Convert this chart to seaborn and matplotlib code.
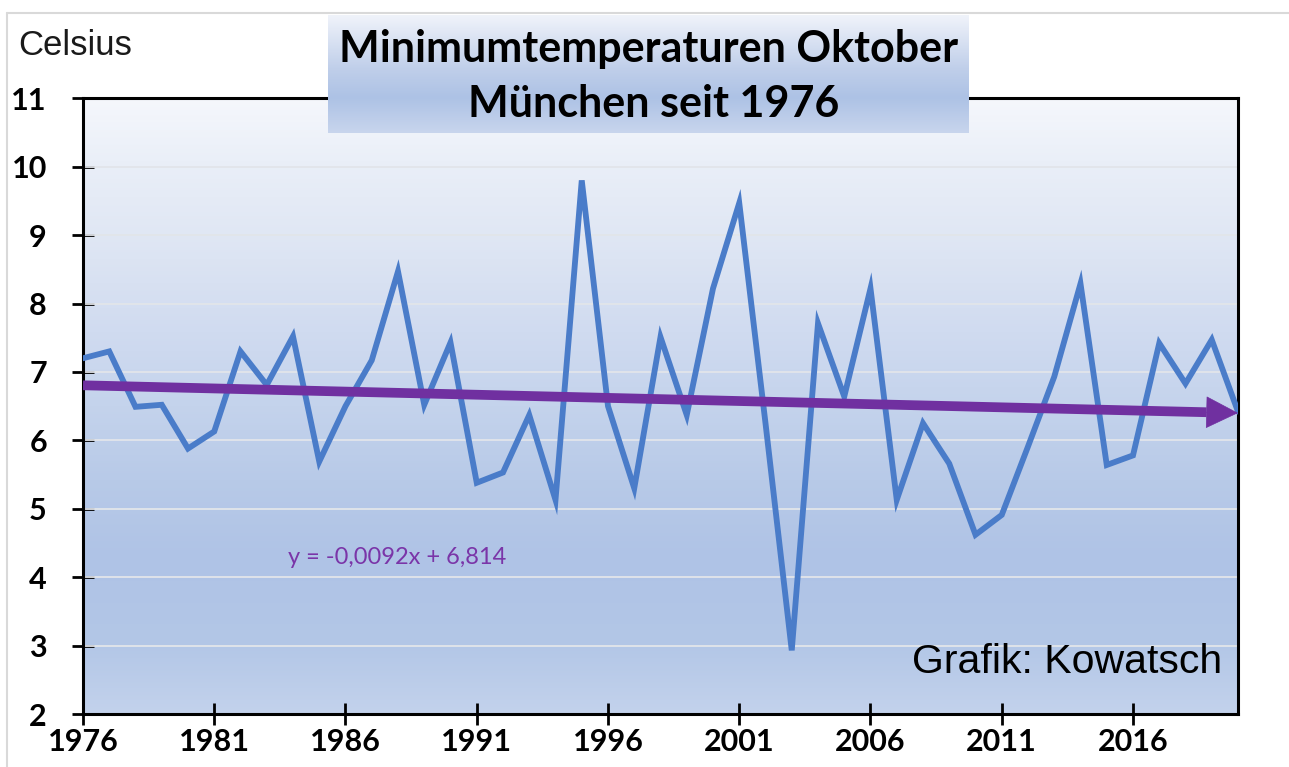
import numpy as np
import pandas as pd
import matplotlib
matplotlib.use("Agg")
import matplotlib.pyplot as plt
import seaborn as sns
from matplotlib.colors import LinearSegmentedColormap
from matplotlib.lines import Line2D

# ---------------- data ----------------
years = list(range(1976, 2021))
tmin = [7.20, 7.30, 6.49, 6.52, 5.88, 6.13, 7.30, 6.81, 7.52, 5.69,
        6.50, 7.17, 8.47, 6.52, 7.43, 5.38, 5.53, 6.37, 5.13, 9.80,
        6.50, 5.30, 7.51, 6.37, 8.22, 9.47, 6.25, 2.93, 7.71, 6.64,
        8.22, 5.13, 6.25, 5.66, 4.62, 4.91, 5.91, 6.93, 8.29, 5.64,
        5.78, 7.42, 6.83, 7.47, 6.42]
trend_slope = -0.0092
trend_intercept = 6.814
x_ticks = [1976, 1981, 1986, 1991, 1996, 2001, 2006, 2011, 2016]
y_ticks = [2, 3, 4, 5, 6, 7, 8, 9, 10, 11]
title_lines = ["Minimumtemperaturen Oktober", "München seit 1976"]
unit_label = "Celsius"
credit = "Grafik: Kowatsch"
equation = "y = -0,0092x + 6,814"

df = pd.DataFrame({"Jahr": years, "Tmin": tmin})
idx = np.arange(1, len(years) + 1)
df["Trend"] = trend_intercept + trend_slope * idx

# ---------------- style ----------------
sns.set_style("white")
plt.rcParams["font.family"] = ["Lato", "DejaVu Sans"]

W, H = 1289, 767
fig = plt.figure(figsize=(W / 100, H / 100), dpi=100)
fig.patch.set_facecolor("white")

ax = fig.add_axes([83 / W, 1 - 714 / H, (1238 - 83) / W, (714 - 98.3) / H])

# gradient background
bg_stops = [(0.0, '#c3d2ec'), (0.11, '#b3c7e7'), (0.25, '#afc3e6'),
            (0.38, '#b8cae8'), (0.5, '#c4d3ec'), (0.62, '#d0dbf0'),
            (0.78, '#e0e7f4'), (0.9, '#eaeff8'), (1.0, '#f5f7fc')]
bg_cmap = LinearSegmentedColormap.from_list('bg', bg_stops)
grad = np.linspace(0, 1, 256).reshape(-1, 1)
ax.imshow(grad, cmap=bg_cmap, aspect='auto', extent=[0, 1, 0, 1],
          transform=ax.transAxes, origin='lower', zorder=0)

# grid lines
for v in y_ticks[1:-1]:
    ax.axhline(v, color='#e2e5ea', lw=1.3, zorder=1)

# data line
sns.lineplot(data=df, x="Jahr", y="Tmin", ax=ax, color='#4a7cc9', lw=4.2,
             zorder=3, solid_joinstyle='miter')

# trend line with arrow head
head_start = years[-1] - 1.2
mask = df["Jahr"] <= head_start
ax.plot(list(df.loc[mask, "Jahr"]) + [head_start],
        list(df.loc[mask, "Trend"]) + [trend_intercept + trend_slope * (len(years) - 1.2)],
        color='#7030a0', lw=7, solid_capstyle='butt', zorder=4)
ax.annotate('', xy=(years[-1], df["Trend"].iloc[-1]),
            xytext=(head_start - 0.2, trend_intercept + trend_slope * (len(years) - 1.4)),
            arrowprops=dict(arrowstyle='-|>,head_length=1.1,head_width=0.55',
                            mutation_scale=20, lw=0.5, color='#7030a0',
                            shrinkA=0, shrinkB=0), zorder=5)

ax.set_xlim(years[0], years[-1])
ax.set_ylim(y_ticks[0], y_ticks[-1])
ax.set_xticks(x_ticks)
ax.set_yticks(y_ticks)
ax.set_xlabel("")
ax.set_ylabel("")
for s in ax.spines.values():
    s.set_color('black')
    s.set_linewidth(2.2)
    s.set_visible(True)
ax.tick_params(axis='both', direction='inout', length=16, width=2.0,
               colors='black', labelsize=22, bottom=True, left=True,
               top=False, right=False)
ax.tick_params(axis='y', pad=18)
ax.tick_params(axis='x', pad=2)
for lab in ax.get_xticklabels() + ax.get_yticklabels():
    lab.set_fontweight('bold')

fig.text(397 / W, 1 - 558 / H, equation, ha='center', va='center',
         fontsize=17, color='#7a35a8')
fig.text(1222 / W, 1 - 673 / H, credit, ha='right', va='baseline',
         fontsize=29.5, color='black', family='Liberation Sans')

fig.text(18 / W, 1 - 55 / H, unit_label, ha='left', va='baseline',
         fontsize=25, color='#1a1a1a', family='Liberation Sans')

# title box
tax = fig.add_axes([328 / W, 1 - 133 / H, (969 - 328) / W, (133 - 15) / H])
tstops = [(0.0, '#c8d5ed'), (0.3, '#adc2e5'), (0.55, '#c0cfea'), (1.0, '#f0f3fa')]
tax.imshow(grad, cmap=LinearSegmentedColormap.from_list('t', tstops),
           aspect='auto', extent=[0, 1, 0, 1], origin='lower')
tax.set_xlim(0, 1)
tax.set_ylim(0, 1)
tax.axis('off')
fig.text(649 / W, 1 - 62 / H, title_lines[0], ha='center', va='baseline',
         fontsize=31, fontweight='bold', color='black')
fig.text(654 / W, 1 - 117 / H, title_lines[1], ha='center', va='baseline',
         fontsize=31, fontweight='bold', color='black')

# outer light frame
fig.add_artist(Line2D([7 / W, 1], [1 - 13 / H, 1 - 13 / H], color='#d9d9d9', lw=1.5))
fig.add_artist(Line2D([7 / W, 7 / W], [0, 1 - 13 / H], color='#d9d9d9', lw=1.5))

fig.savefig("out.png", dpi=100)
